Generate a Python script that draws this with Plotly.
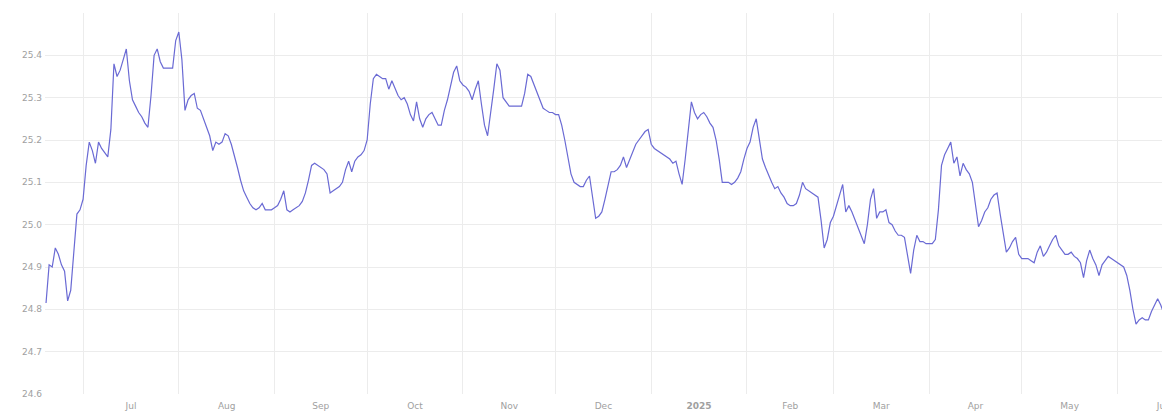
import pandas as pd
import plotly.graph_objects as go

# Daily values, one list per month
jun24 = [24.815, 24.905, 24.90, 24.945, 24.93, 24.905, 24.89, 24.82, 24.845, 24.94, 25.025, 25.035]
jul24 = [25.06, 25.14, 25.195, 25.175, 25.145, 25.195, 25.18, 25.17, 25.16, 25.225, 25.38, 25.35, 25.365, 25.39,
         25.415, 25.34, 25.295, 25.28, 25.265, 25.255, 25.24, 25.23, 25.305, 25.40, 25.415, 25.385, 25.37, 25.37,
         25.37, 25.37, 25.435]
aug24 = [25.455, 25.39, 25.27, 25.295, 25.305, 25.31, 25.275, 25.27, 25.25, 25.23, 25.21, 25.175, 25.195, 25.19,
         25.195, 25.215, 25.21, 25.19, 25.165, 25.135, 25.105, 25.08, 25.065, 25.05, 25.04, 25.035, 25.04, 25.05,
         25.035, 25.035, 25.035]
sep24 = [25.04, 25.045, 25.06, 25.08, 25.035, 25.03, 25.035, 25.04, 25.045, 25.055, 25.075, 25.105, 25.14, 25.145,
         25.14, 25.135, 25.13, 25.12, 25.075, 25.08, 25.085, 25.09, 25.10, 25.13, 25.15, 25.125, 25.15, 25.16,
         25.165, 25.175]
oct24 = [25.20, 25.285, 25.345, 25.355, 25.35, 25.345, 25.345, 25.32, 25.34, 25.32, 25.305, 25.295, 25.30, 25.285,
         25.26, 25.245, 25.29, 25.25, 25.23, 25.25, 25.26, 25.265, 25.25, 25.235, 25.235, 25.27, 25.295, 25.33,
         25.36, 25.375, 25.34]
nov24 = [25.33, 25.325, 25.315, 25.295, 25.32, 25.34, 25.285, 25.235, 25.21, 25.26, 25.32, 25.38, 25.365, 25.30,
         25.29, 25.28, 25.28, 25.28, 25.28, 25.28, 25.31, 25.355, 25.35, 25.33, 25.31, 25.295, 25.275, 25.27,
         25.265, 25.265]
dec24 = [25.26, 25.26, 25.235, 25.20, 25.16, 25.12, 25.10, 25.095, 25.09, 25.09, 25.105, 25.115, 25.06, 25.015,
         25.02, 25.03, 25.06, 25.095, 25.125, 25.125, 25.13, 25.14, 25.16, 25.135, 25.155, 25.17, 25.19, 25.20,
         25.21, 25.22, 25.225]
jan25 = [25.19, 25.18, 25.175, 25.17, 25.165, 25.16, 25.155, 25.145, 25.15, 25.12, 25.095, 25.155, 25.225, 25.29,
         25.265, 25.25, 25.26, 25.265, 25.255, 25.24, 25.23, 25.20, 25.155, 25.10, 25.10, 25.10, 25.095, 25.10,
         25.11, 25.125, 25.155]
feb25 = [25.18, 25.195, 25.23, 25.25, 25.20, 25.155, 25.135, 25.115, 25.10, 25.085, 25.09, 25.075, 25.065, 25.05,
         25.045, 25.045, 25.05, 25.07, 25.10, 25.085, 25.08, 25.075, 25.07, 25.065, 25.01, 24.945, 24.965, 25.005]
mar25 = [25.02, 25.045, 25.07, 25.095, 25.03, 25.045, 25.03, 25.01, 24.995, 24.975, 24.955, 25.00, 25.06, 25.085,
         25.015, 25.03, 25.03, 25.035, 25.005, 25.00, 24.985, 24.975, 24.975, 24.97, 24.93, 24.885, 24.94, 24.975,
         24.96, 24.96, 24.955]
apr25 = [24.955, 24.955, 24.965, 25.035, 25.14, 25.165, 25.18, 25.195, 25.145, 25.16, 25.115, 25.145, 25.13, 25.12,
         25.10, 25.045, 24.995, 25.01, 25.03, 25.04, 25.06, 25.07, 25.075, 25.025, 24.975, 24.935, 24.945, 24.96,
         24.97, 24.93]
may25 = [24.92, 24.92, 24.92, 24.915, 24.91, 24.935, 24.95, 24.925, 24.935, 24.95, 24.965, 24.975, 24.95, 24.94,
         24.93, 24.93, 24.935, 24.925, 24.92, 24.91, 24.875, 24.915, 24.94, 24.92, 24.905, 24.88, 24.905, 24.915,
         24.925, 24.92, 24.915]
jun25 = [24.91, 24.905, 24.90, 24.88, 24.845, 24.80, 24.765, 24.775, 24.78, 24.775, 24.775, 24.795, 24.81, 24.825,
         24.81, 24.79, 24.81]

month_chunks = [
    ("2024-06-19", jun24), ("2024-07-01", jul24), ("2024-08-01", aug24), ("2024-09-01", sep24),
    ("2024-10-01", oct24), ("2024-11-01", nov24), ("2024-12-01", dec24), ("2025-01-01", jan25),
    ("2025-02-01", feb25), ("2025-03-01", mar25), ("2025-04-01", apr25), ("2025-05-01", may25),
    ("2025-06-01", jun25),
]

month_labels = ["Jul", "Aug", "Sep", "Oct", "Nov", "Dec", "<b>2025</b>", "Feb", "Mar", "Apr", "May", "Jun"]
y_ticks = [24.6, 24.7, 24.8, 24.9, 25.0, 25.1, 25.2, 25.3, 25.4, 25.5]
y_labels = ["24.6", "24.7", "24.8", "24.9", "25.0", "25.1", "25.2", "25.3", "25.4", ""]

dates, values = [], []
for start, vals in month_chunks:
    dates.extend(pd.date_range(start, periods=len(vals), freq="D"))
    values.extend(vals)

month_starts = pd.date_range("2024-07-01", "2025-06-01", freq="MS")
month_mids = [m + (m + pd.offsets.MonthBegin(1) - m) / 2 for m in month_starts]

fig = go.Figure(go.Scatter(
    x=dates, y=values, mode="lines",
    line=dict(color="#6a6ad4", width=1.2),
    hoverinfo="x+y",
))

fig.update_layout(
    width=1162, height=407,
    margin=dict(l=37, r=0, t=5, b=21, autoexpand=False),
    paper_bgcolor="white", plot_bgcolor="white",
    showlegend=False,
    font=dict(family="DejaVu Sans", size=9, color="#a0a0a0"),
    xaxis=dict(
        range=["2024-06-18 16:00", "2025-06-18"],
        tickmode="array", tickvals=month_mids, ticktext=month_labels,
        showgrid=False, zeroline=False, showline=False, ticks="",
        ticklabelstandoff=5, ticklabeloverflow="allow", automargin=False,
        tickfont=dict(size=9, color="#a0a0a0"),
        minor=dict(tickmode="array", tickvals=list(month_starts), showgrid=True,
                   gridcolor="#ececec", gridwidth=1, ticks=""),
    ),
    yaxis=dict(
        range=[24.6, 25.5],
        tickmode="array", tickvals=y_ticks, ticktext=y_labels,
        showgrid=True, gridcolor="#ececec", gridwidth=1,
        zeroline=False, showline=False, ticks="", automargin=False,
        ticklabelstandoff=2,
        tickfont=dict(size=9, color="#a0a0a0"),
    ),
)

fig.write_html("out.html")
